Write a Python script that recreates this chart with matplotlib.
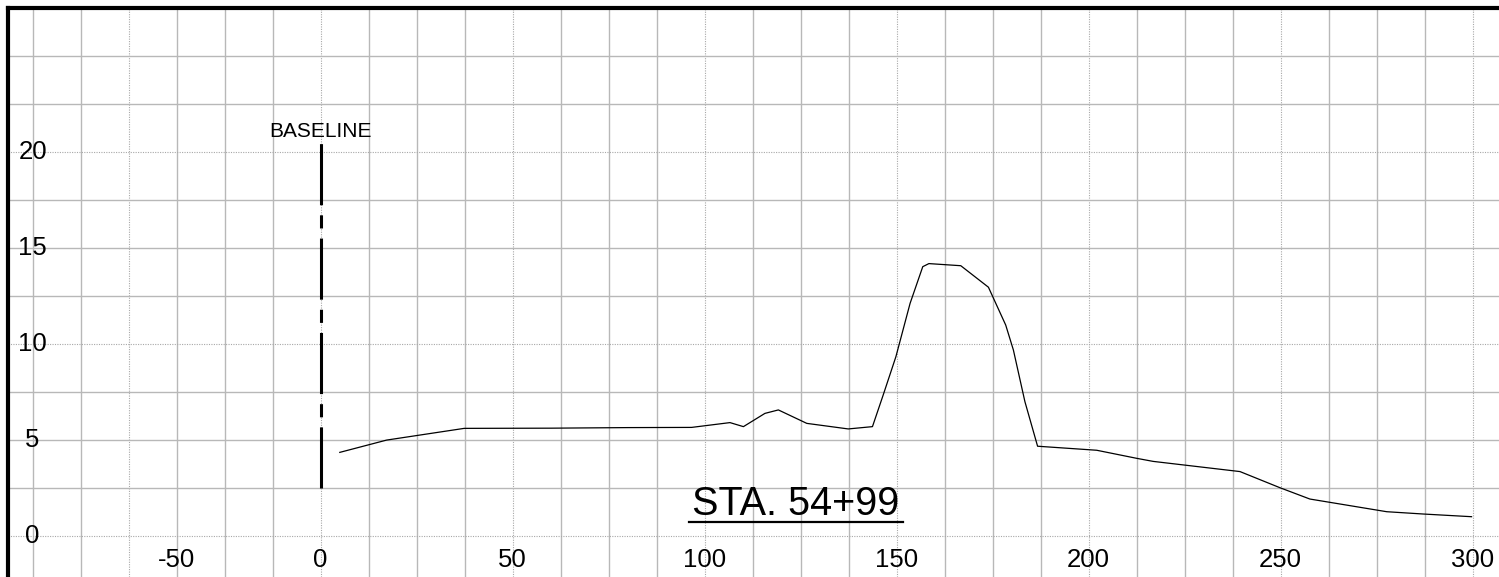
import matplotlib.pyplot as plt
from matplotlib.ticker import MultipleLocator
from matplotlib.lines import Line2D

plt.rcParams['font.family'] = ['Liberation Sans', 'DejaVu Sans']

# ground profile (offset from baseline, elevation)
offset = [5.0, 17.2, 37.4, 60, 80, 96.6, 106.6, 110.1, 115.7, 119.2, 126.6, 137.4,
          143.7, 146.5, 149.8, 153.5, 156.8, 158.4, 166.7, 173.9, 178.4, 180.4,
          183.4, 186.7, 202.1, 212.5, 216.8, 239.4, 249.8, 257.6, 277.6, 287.1, 299.7]
elev = [4.34, 4.98, 5.59, 5.60, 5.63, 5.64, 5.89, 5.68, 6.37, 6.55, 5.85, 5.56,
        5.68, 7.33, 9.32, 12.1, 14.01, 14.17, 14.06, 12.94, 10.97, 9.67,
        6.98, 4.66, 4.45, 4.03, 3.87, 3.34, 2.5, 1.91, 1.25, 1.13, 0.99]

baseline_x = 0
baseline_y = [2.5, 20.5]

xtick_vals = [-50, 0, 50, 100, 150, 200, 250, 300]
ytick_vals = [0, 5, 10, 15, 20]
station = "STA. 54+99"

fig = plt.figure(figsize=(14.99, 5.77), dpi=100)
ax = fig.add_axes([8 / 1499, 0, 1 - 8 / 1499, 1 - 8 / 577])
ax.set_xlim(-81.4, 306.85)
ax.set_ylim(-2.15, 27.48)

# grid: solid every 12.5 / 2.5, dotted on 50 / 10
ax.xaxis.set_major_locator(MultipleLocator(50))
ax.xaxis.set_minor_locator(MultipleLocator(12.5))
ax.yaxis.set_major_locator(MultipleLocator(10))
ax.yaxis.set_minor_locator(MultipleLocator(2.5))
ax.grid(which='minor', color='#b8b8b8', lw=1.0, ls='-')
ax.grid(which='major', color='#a8a8a8', lw=0.8, ls=(0, (1, 1.2)))
ax.tick_params(which='both', length=0, labelbottom=False, labelleft=False)
ax.set_axisbelow(True)

for s in ['right', 'bottom']:
    ax.spines[s].set_visible(False)
for s in ['left', 'top']:
    ax.spines[s].set_linewidth(3)
    ax.spines[s].set_color('black')

# tick labels drawn inside the axes
for v in ytick_vals:
    ax.text(-75, v, str(v), fontsize=18.5, ha='center', va='center')
for v in xtick_vals:
    xpos = v if v >= 0 else v + 12.5
    ax.text(xpos, -1.25, str(v), fontsize=18.5, ha='center', va='center')

# baseline
ax.plot([baseline_x, baseline_x], baseline_y, color='black', lw=2.2,
        dashes=(20, 3.3, 4.3, 3.3), solid_capstyle='butt', dash_capstyle='butt')
ax.text(baseline_x, baseline_y[1] + 0.27, "BASELINE", fontsize=15, ha='center', va='baseline')

# profile
ax.plot(offset, elev, color='black', lw=0.9)

# station label with underline
t = ax.text(123.7, 1.08, station, fontsize=28.5, ha='center', va='baseline')
fig.canvas.draw()
bb = t.get_window_extent()
uy = bb.y0 + 1
fig.add_artist(Line2D([bb.x0 - 3, bb.x1 + 4], [uy, uy], color='black', lw=1.6,
                      transform=None))

fig.savefig('out.png', dpi=100)
